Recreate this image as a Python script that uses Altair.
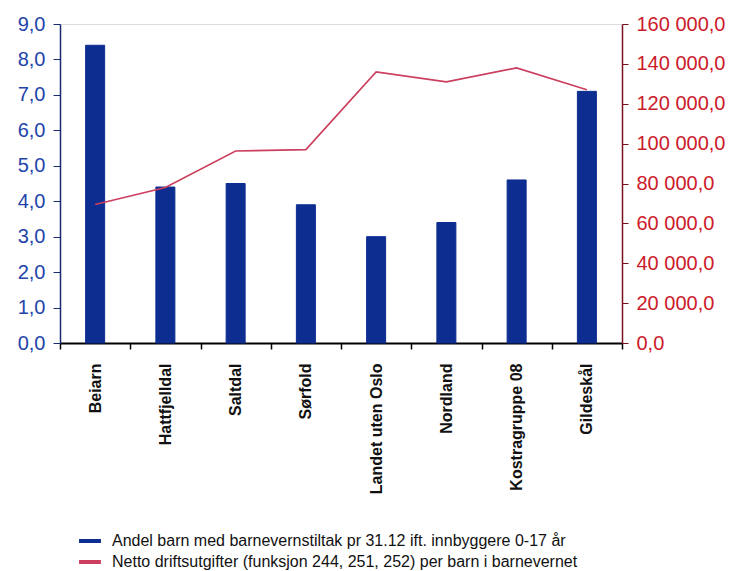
import altair as alt
import pandas as pd

categories = ["Beiarn", "Hattfjelldal", "Saltdal", "Sørfold", "Landet uten Oslo",
              "Nordland", "Kostragruppe 08", "Gildeskål"]
andel = [8.4, 4.4, 4.5, 3.9, 3.0, 3.4, 4.6, 7.1]
netto = [69500, 78000, 96300, 97000, 136000, 131000, 138000, 127000]

s1 = "Andel barn med barnevernstiltak pr 31.12 ift. innbyggere 0-17 år"
s2 = "Netto driftsutgifter (funksjon 244, 251, 252) per barn i barnevernet"

df = pd.DataFrame({"kategori": categories, "andel": andel, "netto": netto,
                   "serie1": [s1] * len(categories), "serie2": [s2] * len(categories)})

xenc = alt.X("kategori:N", sort=categories, title=None,
             scale=alt.Scale(paddingInner=0, paddingOuter=0),
             axis=alt.Axis(labelAngle=-90, labelFont="Liberation Sans", labelFontWeight="bold",
                           labelFontSize=16, labelColor="#111111", labelPadding=14,
                           tickBand="extent", tickSize=6, tickColor="#000000", tickWidth=1.5,
                           domainColor="#000000", domainWidth=2))

stroke_scale = alt.Scale(domain=[s1, s2], range=["#0d2d91", "#cc3f5e"])
legend = alt.Legend(title=None, orient="none", legendX=17, legendY=504, symbolType="stroke",
                    symbolStrokeWidth=4, symbolSize=480, labelFont="Liberation Sans",
                    labelFontSize=16, labelColor="#111111", rowPadding=0, labelLimit=700,
                    labelOffset=9)

bars = alt.Chart(df).mark_bar(size=19, fill="#0d2d91", strokeWidth=1).encode(
    x=xenc,
    y=alt.Y("andel:Q", title=None,
            scale=alt.Scale(domain=[0, 9], nice=False),
            axis=alt.Axis(values=list(range(10)), labelExpr="replace(format(datum.value, '.1f'), '.', ',')",
                          labelFont="Liberation Sans", labelFontSize=20, labelColor="#2244aa",
                          labelPadding=8, tickSize=7, tickColor="#1a2a70", domainColor="#1a2a70",
                          domainWidth=1.5, grid=False)),
    stroke=alt.Stroke("serie1:N", scale=stroke_scale, legend=legend),
)

line = alt.Chart(df).mark_line(strokeWidth=1.6).encode(
    x=xenc,
    y=alt.Y("netto:Q", title=None,
            scale=alt.Scale(domain=[0, 160000], nice=False),
            axis=alt.Axis(orient="right", values=list(range(0, 160001, 20000)),
                          labelExpr="datum.value == 0 ? '0,0' : format(datum.value / 1000, '.0f') + ' 000,0'",
                          labelFont="Liberation Sans", labelFontSize=20, labelColor="#cc1a2a",
                          labelPadding=8, tickSize=6, tickColor="#7a1020", domainColor="#7a1020",
                          domainWidth=1.5, grid=False)),
    stroke=alt.Stroke("serie2:N", scale=stroke_scale, legend=legend),
)

chart = alt.layer(bars, line).resolve_scale(y="independent").properties(
    width=562, height=319,
    autosize=alt.AutoSizeParams(type="none"),
    padding={"left": 52, "top": 16, "right": 110, "bottom": 228},
).configure_view(stroke=None).configure(background="white")

chart.save("out.html", embed_options={"renderer": "svg", "actions": False})
